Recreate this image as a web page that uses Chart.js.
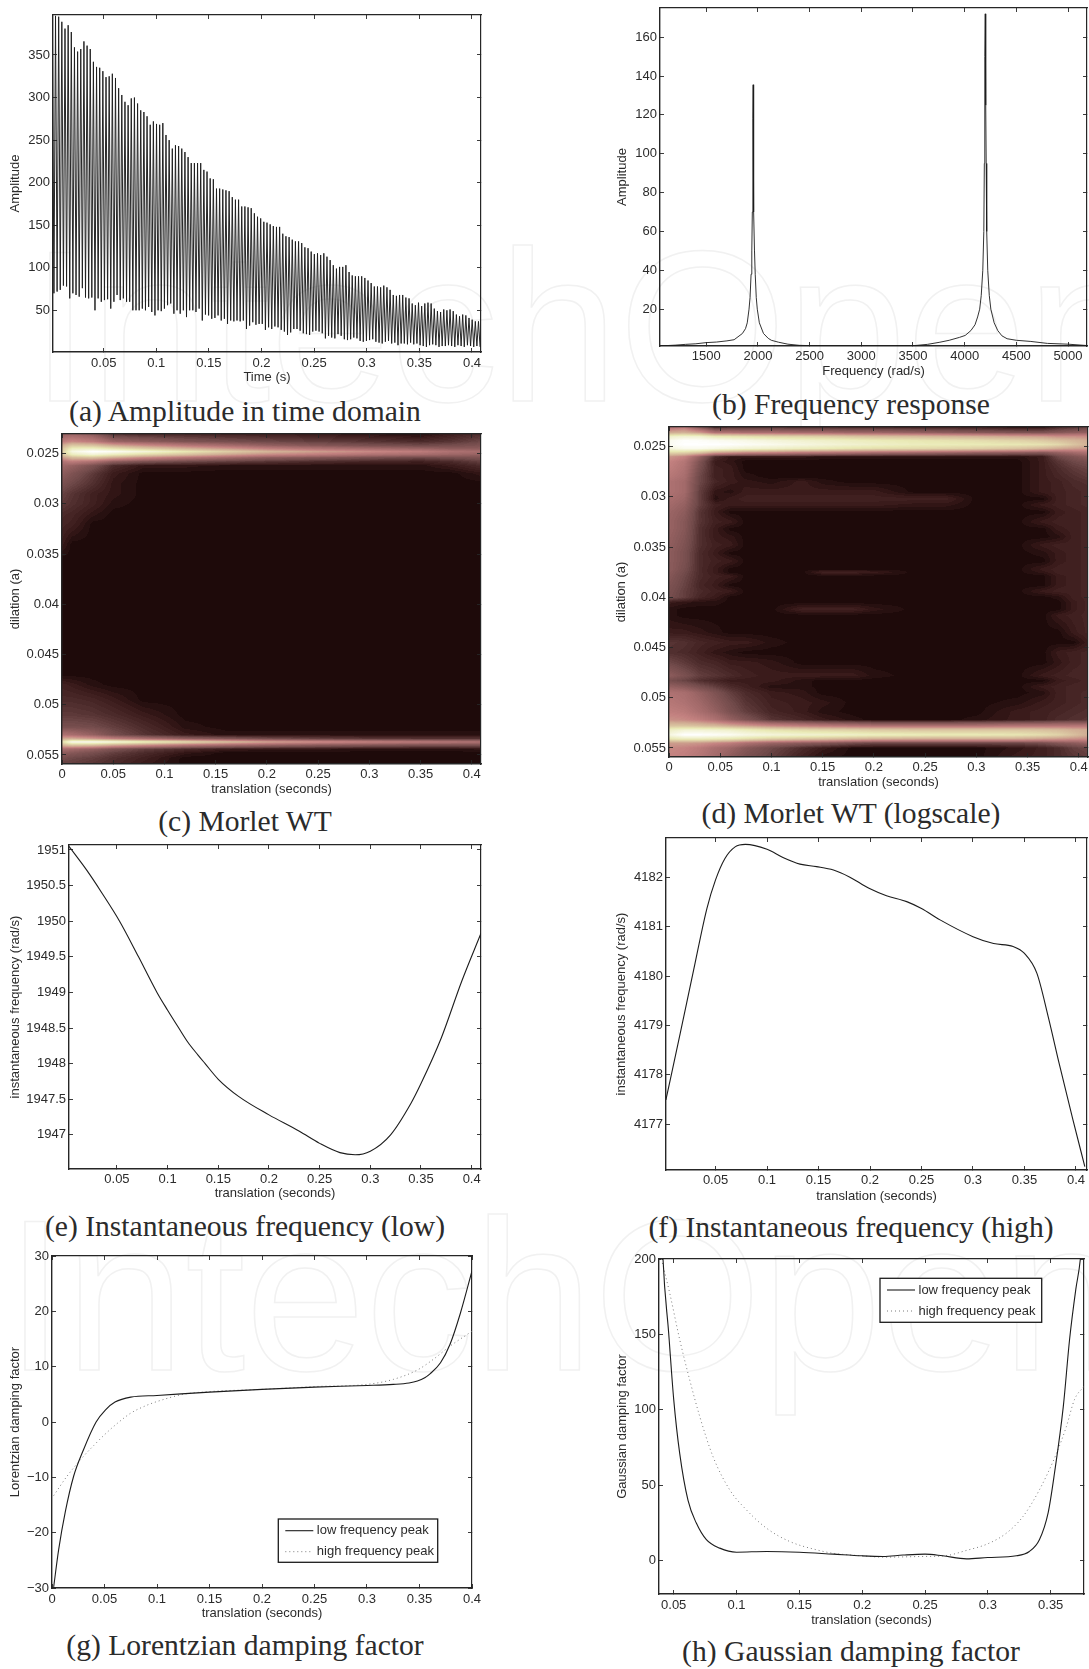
<!DOCTYPE html>
<html>
<head>
<meta charset="utf-8">
<title>Morlet wavelet damping figure</title>
<script src="https://cdn.jsdelivr.net/npm/chart.js@4/dist/chart.umd.min.js"></script>
<style>
  html, body { margin: 0; padding: 0; background: #fff; }
  #page { position: relative; width: 1089px; height: 1669px; overflow: hidden; }
  #page canvas { position: absolute; }
  #mark { position: absolute; left: 0; top: 0; }
  .cap { position: absolute; transform: translate(-50%, -50%); white-space: nowrap; line-height: 1;
         font-family: "Liberation Serif", serif; font-size: 29.6px; color: #2b2b2b; }
</style>
</head>
<body>
<div id="page">
  <svg id="mark" width="1089" height="1669" aria-hidden="true">
    <g font-family="Liberation Sans" font-size="216" fill="none" stroke="#f1f1f1" stroke-width="1.5">
      <text x="30" y="401">IntechOpen</text>
      <text x="5" y="1370">IntechOpen</text>
    </g>
  </svg>
</div>
<script>
// (a) time signal: top and bottom of each oscillation
var ampPeaks = [398,396,395,389,381,385,377,359,354,357,366,361,357,342,336,335,331,324,325,328,323,311,303,295,291,299,300,293,285,283,278,268,272,269,268,270,256,250,240,244,243,240,236,230,223,223,223,223,215,213,205,204,193,193,192,191,190,183,180,180,172,172,171,170,164,160,158,154,153,151,149,148,148,140,137,136,133,131,131,129,124,123,119,116,117,115,117,113,109,103,99,101,101,103,95,91,90,90,90,88,85,82,78,78,77,79,77,74,68,67,68,68,65,64,58,56,59,55,58,59,58,52,49,48,51,50,51,49,45,43,45,44,41,39,37,37];
var ampTroughs = [70,72,74,79,78,64,70,68,66,76,65,64,65,50,64,60,62,63,52,60,68,62,64,60,60,50,50,50,52,50,54,48,44,50,49,52,56,58,46,50,46,50,42,50,50,48,52,38,45,44,40,41,44,38,40,34,38,37,38,37,38,28,32,36,33,34,34,27,30,28,31,30,27,25,21,24,28,28,26,23,22,21,25,26,25,23,17,20,18,17,22,20,16,15,16,18,17,14,13,14,15,16,13,12,11,13,14,11,12,9,11,11,10,12,10,11,9,8,7,9,10,9,7,8,8,9,8,7,9,8,7,9,8,7,8,7];
var ampStart = 0.0012;
var ampPeriod = 0.0030;
var ampXTicks = [0.05,0.1,0.15,0.2,0.25,0.3,0.35,0.4];
var ampYTicks = [50,100,150,200,250,300,350];

// (b) spectrum
var specFreq = [1053,1200,1300,1400,1500,1600,1700,1770,1850,1880,1897,1914,1924,1934,1941,1946,1950,1952,1954,1956,1958,1962,1967,1974,1984,1994,2014,2054,2100,2130,2200,2290,2400,2600,3000,3300,3500,3640,3760,3850,3950,4005,4060,4100,4125,4145,4160,4175,4185,4190,4193,4196,4199,4202,4205,4208,4213,4223,4238,4253,4285,4320,4360,4410,4500,4640,4800,5000,5183];
var specAmp = [1.1,1.5,1.9,2.2,2.8,3.1,3.7,4.3,7.5,10,13,20,26,38,50,70,96,118,135.5,118,96,70,50,38,26,20,13,7.5,5,4,3,2,1.4,1.1,1.1,1.1,1.2,1.9,3,4,5.5,6.5,9,12,16,20,27,40,60,95,125,150,172,150,125,95,60,40,27,20,13,9,6.3,4.8,4,3.4,2.4,2,1.3];
var specXTicks = [1500,2000,2500,3000,3500,4000,4500,5000];
var specYTicks = [20,40,60,80,100,120,140,160];

// (c) Morlet WT, percent of colour range, one row per dilation
var wtTimes = [0,0.01,0.03,0.05,0.08,0.12,0.16,0.2,0.25,0.3,0.35,0.38,0.41];
var wtDilations = [0.0230,0.0238,0.0242,0.0245,0.0248,0.0251,0.0254,0.0258,0.0262,0.0270,0.0280,0.0290,0.0300,0.0310,0.0320,0.0340,0.0355,0.0470,0.0480,0.0495,0.0510,0.0522,0.0530,0.0534,0.0537,0.0540,0.0544,0.0548,0.0553,0.0559];
var wtCells = [
  [20,22,18,6,4,4,3,3,2,1,0,3,6],
  [35,40,35,24,20,16,14,12,10,8,6,8,12],
  [50,62,60,50,42,34,28,22,18,15,13,14,16],
  [58,78,80,72,62,52,44,36,30,26,23,20,20],
  [62,90,100,97,88,75,64,54,46,40,35,30,27],
  [58,78,86,78,68,58,48,40,35,30,27,24,22],
  [45,55,58,50,40,32,26,20,17,14,12,14,16],
  [30,35,30,20,15,12,10,8,6,5,4,6,10],
  [25,22,15,6,2,2,1,1,1,1,1,3,6],
  [20,16,9,3,0,0,0,0,0,0,0,0,2],
  [15,12,7,2,0,0,0,0,0,0,0,0,0],
  [11,8,4,2,0,0,0,0,0,0,0,0,0],
  [9,7,4,1,0,0,0,0,0,0,0,0,0],
  [6,5,2,0,0,0,0,0,0,0,0,0,0],
  [5,4,0,0,0,0,0,0,0,0,0,0,0],
  [3,0,0,0,0,0,0,0,0,0,0,0,0],
  [0,0,0,0,0,0,0,0,0,0,0,0,0],
  [0,0,0,0,0,0,0,0,0,0,0,0,0],
  [4,3,1,0,0,0,0,0,0,0,0,0,0],
  [6,6,5,3,0,0,0,0,0,0,0,0,0],
  [9,9,8,6,3,0,0,0,0,0,0,0,0],
  [14,14,13,10,6,1,0,0,0,0,0,0,0],
  [30,28,22,14,8,3,1,1,1,1,1,1,1],
  [50,52,46,38,30,22,18,14,11,9,8,8,8],
  [70,95,95,90,80,70,58,48,42,37,34,32,30],
  [55,62,60,52,44,34,28,24,20,18,16,16,16],
  [28,26,22,16,10,6,3,2,2,1,1,1,2],
  [20,18,14,10,6,2,0,0,0,0,0,0,0],
  [14,12,10,7,4,0,0,0,0,0,0,0,0],
  [10,10,8,6,3,0,0,0,0,0,0,0,0]
];

// (d) Morlet WT on log scale
var logTimes = [0,0.015,0.03,0.045,0.06,0.075,0.1,0.13,0.15,0.18,0.2,0.24,0.27,0.3,0.34,0.365,0.38,0.395,0.41];
var logDilations = [0.0231,0.0236,0.0240,0.0244,0.0248,0.0252,0.0256,0.0260,0.0265,0.0272,0.0280,0.0285,0.0295,0.0302,0.0308,0.0315,0.0325,0.0332,0.0340,0.0348,0.0356,0.0364,0.0372,0.0375,0.0379,0.0388,0.0394,0.0400,0.0405,0.0412,0.0418,0.0435,0.0445,0.0455,0.0465,0.0478,0.0483,0.0489,0.0495,0.0505,0.0514,0.0522,0.0528,0.0532,0.0537,0.0541,0.0545,0.0550,0.0559];
var logCells = [
  [30,35,18,6,8,8,8,7,7,6,6,5,5,4,2,2,6,8,12],
  [50,52,45,30,30,28,28,26,26,24,24,22,20,18,16,16,18,20,22],
  [82,85,84,76,74,72,68,66,64,60,58,56,54,52,48,46,42,42,40],
  [94,99,98,96,94,92,88,84,82,79,77,74,72,70,66,62,58,54,50],
  [96,100,100,100,99,97,94,90,87,84,82,78,77,76,74,72,68,60,52],
  [88,94,94,91,88,85,82,78,76,72,70,68,66,64,59,54,49,46,44],
  [68,66,60,48,44,40,38,34,32,30,28,26,24,22,20,18,22,26,30],
  [44,38,22,6,2,2,2,2,1,1,1,1,1,1,1,3,12,16,20],
  [38,32,16,3,2,0,0,0,0,0,0,0,0,0,0,3,8,12,14],
  [36,30,14,4,3,0,0,0,0,0,0,0,0,0,0,3,6,9,11],
  [33,28,12,4,3,1,0,0,0,0,0,0,0,0,0,3,5,7,9],
  [30,26,12,5,3,2,1,3,1,0,0,0,0,0,0,3,4,6,7],
  [30,26,10,2,1,3,3,3,3,3,3,0,0,0,0,3,4,5,6],
  [28,24,10,1,3,4,4,4,4,4,4,4,4,0,0,0,4,5,6],
  [26,22,10,4,3,3,3,3,3,3,3,2,2,0,0,3,4,5,6],
  [24,20,8,3,0,0,0,0,0,0,0,0,0,0,0,0,3,4,5],
  [23,18,8,4,3,0,0,0,0,0,0,0,0,0,0,3,4,4,5],
  [23,18,7,3,0,0,0,0,0,0,0,0,0,0,0,0,3,4,5],
  [22,17,7,3,2,0,0,0,0,0,0,0,0,0,0,0,1,4,5],
  [21,16,7,4,3,0,0,0,0,0,0,0,0,0,0,3,4,4,5],
  [20,15,6,3,0,0,0,0,0,0,0,0,0,0,0,1,3,4,5],
  [20,15,6,4,3,0,0,0,0,0,0,0,0,0,0,0,3,4,5],
  [20,14,6,3,0,0,0,0,0,0,0,0,0,0,0,3,4,4,5],
  [19,13,6,3,0,0,0,0,4,4,3,0,0,0,0,2,4,4,5],
  [18,12,6,4,3,0,0,0,0,0,0,0,0,0,0,0,3,4,5],
  [16,11,5,3,0,0,0,0,0,0,0,0,0,0,0,0,3,4,5],
  [15,10,6,4,3,0,0,0,0,0,0,0,0,0,0,3,4,4,5],
  [14,10,5,3,0,0,0,0,0,0,0,0,0,0,0,0,1,4,5],
  [3,2,1,1,0,0,0,0,0,0,0,0,0,0,0,0,0,3,5],
  [1,0,0,0,0,0,0,4,4,4,2,0,0,0,0,0,0,3,5],
  [1,0,0,0,0,0,0,0,0,0,0,0,0,0,0,0,3,4,5],
  [3,3,2,1,0,0,0,0,0,0,0,0,0,0,0,0,0,3,5],
  [8,7,5,4,3,3,1,0,0,0,0,0,0,0,0,0,0,0,3.5],
  [7,6,4,2,1,0,0,0,0,0,0,0,0,0,0,0,3,4,5],
  [12,9,6,5,3,3,2,0,0,0,0,0,0,0,0,0,2,4,5],
  [20,15,10,8,6,4,3,3,3,3,1,0,0,0,0,3,4,5,5],
  [14,11,7,5,3,3,3,1,0,0,0,0,0,0,0,0,3,4,5],
  [22,19,14,10,6,4,1,1,0,0,0,0,0,0,0,3,4,5,5],
  [30,28,22,16,10,6,3,2,0,0,0,0,0,0,0,1,4,5,6],
  [33,30,25,19,13,8,4,3,2,0,0,0,0,0,1,3,4,5,6],
  [36,34,28,22,15,10,5,3,1,0,0,0,0,0,3,4,5,6,7],
  [42,40,36,30,22,16,8,5,3,1,0,0,0,1,3,4,6,7,8],
  [60,60,58,55,50,46,40,36,34,32,30,30,30,30,32,32,32,32,32],
  [80,85,85,84,82,78,72,68,66,64,62,60,60,60,60,58,56,52,50],
  [90,100,100,98,96,92,88,85,84,82,80,78,76,76,74,70,66,58,50],
  [74,78,78,76,74,70,64,60,58,54,52,50,50,50,50,46,44,42,40],
  [46,46,44,40,36,30,24,20,18,14,12,12,12,12,12,14,18,20,24],
  [40,38,34,28,24,18,12,6,3,0,0,0,0,0,2,4,6,10,12],
  [38,36,32,26,20,15,10,4,1,0,0,0,0,0,3,4,6,8,10]
];
var wtXTicks = [0,0.05,0.1,0.15,0.2,0.25,0.3,0.35,0.4];
var wtYTicks = [0.025,0.03,0.035,0.04,0.045,0.05,0.055];

// pink colour map, percent and colour
var pinkStops = [0,3,12.5,25,37.5,50,75,100];
var pinkColors = [[30,10,10],[58,27,27],[113,74,74],[160,104,104],[195,129,128],[208,172,147],[233,233,181],[255,255,255]];

// (e) instantaneous frequency, low peak
var lowTime = [0.0027,0.02,0.035,0.0526,0.0713,0.0895,0.1,0.111,0.12,0.13,0.137,0.15,0.17,0.2,0.23,0.25,0.27,0.285,0.3,0.32,0.34,0.35,0.37,0.39,0.4092];
var lowFreq = [1951.05,1950.72,1950.4,1950,1949.5,1949,1948.75,1948.5,1948.3,1948.12,1948,1947.78,1947.54,1947.28,1947.05,1946.88,1946.75,1946.72,1946.77,1947,1947.44,1947.72,1948.36,1949.15,1949.83];
var lowXTicks = [0.05,0.1,0.15,0.2,0.25,0.3,0.35,0.4];
var lowYTicks = [1947,1947.5,1948,1948.5,1949,1949.5,1950,1950.5,1951];

// (f) instantaneous frequency, high peak
var highTime = [0.0018,0.0157,0.0287,0.0416,0.05,0.059,0.069,0.079,0.1,0.116,0.132,0.148,0.1645,0.18,0.199,0.216,0.2356,0.25,0.268,0.3,0.32,0.339,0.35,0.362,0.373,0.384,0.397,0.4086];
var highFreq = [4177.49,4178.84,4180.12,4181.37,4181.95,4182.38,4182.62,4182.67,4182.57,4182.4,4182.27,4182.22,4182.15,4182.01,4181.78,4181.63,4181.51,4181.37,4181.14,4180.8,4180.66,4180.6,4180.46,4180.06,4179.18,4178.2,4177.09,4176.14];
var highYTicks = [4177,4178,4179,4180,4181,4182];

// (g) Lorentzian damping
var lorLowTime = [0.0016,0.0063,0.0127,0.0206,0.03,0.042,0.051,0.06,0.075,0.1,0.15,0.2,0.25,0.3,0.325,0.34,0.348,0.355,0.36,0.37,0.379,0.389,0.4];
var lorLow = [-29.8,-23.1,-16.2,-9.8,-5,0,2.2,3.6,4.5,4.8,5.4,5.9,6.3,6.6,6.8,7.05,7.4,8,8.7,10.7,14,19.7,27.3];
var lorHighTime = [0.0016,0.0143,0.03,0.04,0.05,0.0625,0.075,0.09,0.1,0.125,0.15,0.2,0.25,0.3,0.325,0.348,0.363,0.379,0.4];
var lorHigh = [-13.3,-9.8,-6.2,-4.2,-2.3,-0.2,1.6,3,3.7,5,5.5,5.9,6.4,6.8,7.7,9.4,11.3,13.7,16.4];
var lorXTicks = [0,0.05,0.1,0.15,0.2,0.25,0.3,0.35,0.4];
var lorYTicks = [-30,-20,-10,0,10,20,30];

// (h) Gaussian damping
var gaussLowTime = [0.041,0.0415,0.046,0.05,0.0548,0.0614,0.068,0.076,0.0866,0.1,0.124,0.15,0.177,0.2,0.2166,0.2325,0.25,0.264,0.283,0.3,0.3227,0.333,0.341,0.348,0.353,0.36,0.365,0.37,0.3736,0.3757];
var gaussLow = [213,200,151,107,71,40,25,14,8.4,5.7,6.2,5.7,4.4,3.3,2.9,3.8,4.4,3.3,1.3,2.2,3.3,6.2,14,32,58,102,146.5,180,200,224];
var gaussHighTime = [0.0402,0.0468,0.0548,0.0627,0.0707,0.0813,0.0946,0.1078,0.1237,0.1423,0.1635,0.1768,0.2,0.2166,0.25,0.2656,0.283,0.3,0.3147,0.328,0.341,0.3545,0.3625,0.369,0.3765];
var gaussHigh = [200,177.5,146.5,120,95.7,69,47,33.8,21.7,12.8,7.3,5,3.3,2.4,2.9,3.3,6.9,11.3,18.3,29.4,47,71,89,107,115.6];
var gaussXTicks = [0.05,0.1,0.15,0.2,0.25,0.3,0.35];
var gaussYTicks = [0,50,100,150,200];

var legendNames = ['low frequency peak','high frequency peak'];

var captions = [
  ['(a) Amplitude in time domain', 245, 412],
  ['(b) Frequency response', 851, 405],
  ['(c) Morlet WT', 245, 822],
  ['(d) Morlet WT (logscale)', 851, 814],
  ['(e) Instantaneous frequency (low)', 245, 1227],
  ['(f) Instantaneous frequency (high)', 851, 1228],
  ['(g) Lorentzian damping factor', 245, 1646],
  ['(h) Gaussian damping factor', 851, 1652]
];

var inkColor = '#262626';
var labelFont = {family: 'Liberation Sans', size: 13};
var titleHeight = labelFont.size * 1.2;
var page = document.getElementById('page');

function zip(xs, ys) {
  return xs.map(function (x, i) { return {x: x, y: ys[i]}; });
}

function zigzag() {
  var pts = [];
  var n = Math.min(ampPeaks.length, ampTroughs.length);
  for (var i = 0; i < n; i++) {
    pts.push({x: ampStart + i * ampPeriod, y: ampPeaks[i]});
    pts.push({x: ampStart + (i + 0.5) * ampPeriod, y: ampTroughs[i]});
  }
  return pts;
}

function solid(data, label) {
  return {label: label, data: data, borderColor: '#1c1c1c', borderWidth: 1.1, pointRadius: 0, fill: false, cubicInterpolationMode: 'monotone'};
}

function dotted(data, label) {
  return {label: label, data: data, borderColor: '#7a7a7a', borderWidth: 1, borderDash: [1, 3], pointRadius: 0, fill: false, cubicInterpolationMode: 'monotone'};
}

function tickValues(vals) {
  return function (scale) {
    scale.ticks = vals.map(function (v) { return {value: v}; });
  };
}

function setWidth(w) {
  return function (scale) { scale.width = w; scale.paddingTop = 0; scale.paddingBottom = 0; };
}

function setHeight(h) {
  return function (scale) { scale.height = h; scale.paddingLeft = 0; scale.paddingRight = 0; };
}

function tickLabel(v) {
  return String(v).replace('-', '\u2212');
}

function gridOpts() {
  return {drawOnChartArea: false, drawTicks: true, tickLength: -4, color: inkColor, lineWidth: 0.9};
}

function borderOpts(w) {
  return {display: true, color: inkColor, width: w};
}

function heatPlugin(times, dilations, cells) {
  function findCell(list, v) {
    var i = 0;
    while (i < list.length - 2 && v > list[i + 1]) i++;
    var f = (v - list[i]) / (list[i + 1] - list[i]);
    return [i, Math.max(0, Math.min(1, f))];
  }
  function colorAt(p) {
    var k = 0;
    while (k < pinkStops.length - 2 && p > pinkStops[k + 1]) k++;
    var f = (p - pinkStops[k]) / (pinkStops[k + 1] - pinkStops[k]);
    return pinkColors[k].map(function (c, j) { return c + (pinkColors[k + 1][j] - c) * f; });
  }
  return {
    id: 'heat',
    beforeDraw: function (chart) {
      var a = chart.chartArea, sx = chart.scales.x, sy = chart.scales.y;
      var x0 = Math.round(a.left), y0 = Math.round(a.top);
      var w = Math.round(a.right) - x0, h = Math.round(a.bottom) - y0;
      var img = chart.ctx.createImageData(w, h);
      for (var py = 0; py < h; py++) {
        var rf = findCell(dilations, sy.getValueForPixel(y0 + py + 0.5));
        for (var px = 0; px < w; px++) {
          var cf = findCell(times, sx.getValueForPixel(x0 + px + 0.5));
          var r = rf[0], c = cf[0];
          var top = cells[r][c] * (1 - cf[1]) + cells[r][c + 1] * cf[1];
          var bot = cells[r + 1][c] * (1 - cf[1]) + cells[r + 1][c + 1] * cf[1];
          var v = top * (1 - rf[1]) + bot * rf[1];
          // contour levels as in the original filled plot
          var rgb = colorAt(Math.round(v));
          var o = (py * w + px) * 4;
          img.data[o] = rgb[0]; img.data[o + 1] = rgb[1]; img.data[o + 2] = rgb[2]; img.data[o + 3] = 255;
        }
      }
      chart.ctx.putImageData(img, x0, y0);
    }
  };
}

function legendPlugin(box) {
  return {
    id: 'boxLegend',
    afterDraw: function (chart) {
      var ctx = chart.ctx, a = chart.chartArea;
      var x = a.left + box.dx, y = a.top + box.dy;
      ctx.save();
      ctx.fillStyle = '#fff';
      ctx.strokeStyle = '#1c1c1c';
      ctx.lineWidth = 1.3;
      ctx.fillRect(x, y, box.w, box.h);
      ctx.strokeRect(x, y, box.w, box.h);
      ctx.font = labelFont.size + 'px ' + labelFont.family;
      ctx.textBaseline = 'middle';
      chart.data.datasets.forEach(function (ds, i) {
        var rowY = y + 11.7 + i * 21;
        ctx.strokeStyle = ds.borderColor;
        ctx.lineWidth = ds.borderWidth;
        ctx.setLineDash(ds.borderDash || []);
        ctx.beginPath();
        ctx.moveTo(x + 7, rowY);
        ctx.lineTo(x + 35, rowY);
        ctx.stroke();
        ctx.setLineDash([]);
        ctx.fillStyle = '#2b2b2b';
        ctx.fillText(ds.label, x + 38.5, rowY);
      });
      ctx.restore();
    }
  };
}

function addPanel(p) {
  var canvas = document.createElement('canvas');
  var left = Math.round(p.yTitleX - titleHeight / 2);
  var top = p.t - 10;
  var right = Math.min(p.r + 14, 1089);
  var bottom = Math.round(p.xTitleY + titleHeight / 2);
  canvas.width = right - left;
  canvas.height = bottom - top;
  canvas.style.left = left + 'px';
  canvas.style.top = top + 'px';
  page.appendChild(canvas);

  var yReverse = !!p.reverse;
  new Chart(canvas, {
    type: 'line',
    data: {datasets: p.datasets},
    plugins: p.plugins || [],
    options: {
      responsive: false,
      animation: false,
      devicePixelRatio: 1,
      parsing: false,
      normalized: false,
      layout: {autoPadding: false, padding: {left: 0, top: p.t - top, right: right - p.r, bottom: 0}},
      plugins: {legend: {display: false}, tooltip: {enabled: false}},
      scales: {
        x: {
          type: 'linear', position: 'bottom', min: p.xMin, max: p.xMax,
          afterBuildTicks: tickValues(p.xTicks), afterFit: setHeight(bottom - p.b),
          grid: gridOpts(), border: borderOpts(1.4),
          ticks: {autoSkip: false, maxRotation: 0, font: labelFont, color: '#2b2b2b', padding: p.xTickY - p.b - titleHeight / 2 + 4, callback: tickLabel},
          title: {display: true, text: p.xTitle, font: labelFont, color: '#2b2b2b', padding: 0}
        },
        y: {
          type: 'linear', position: 'left', min: p.yMin, max: p.yMax, reverse: yReverse,
          afterBuildTicks: tickValues(p.yTicks), afterFit: setWidth(p.l - left),
          grid: gridOpts(), border: borderOpts(1.4),
          ticks: {autoSkip: false, font: labelFont, color: '#2b2b2b', padding: 7, callback: tickLabel},
          title: {display: true, text: p.yTitle, font: labelFont, color: '#2b2b2b', padding: 0}
        },
        x2: {
          type: 'linear', position: 'top', min: p.xMin, max: p.xMax,
          afterBuildTicks: tickValues(p.xTicks), afterFit: setHeight(0),
          grid: gridOpts(), border: borderOpts(1.2),
          ticks: {display: false}
        },
        y2: {
          type: 'linear', position: 'right', min: p.yMin, max: p.yMax, reverse: yReverse,
          afterBuildTicks: tickValues(p.yTicks), afterFit: setWidth(0),
          grid: gridOpts(), border: borderOpts(1.2),
          ticks: {display: false}
        }
      }
    }
  });
}

captions.forEach(function (c) {
  var d = document.createElement('div');
  d.className = 'cap';
  d.textContent = c[0];
  d.style.left = c[1] + 'px';
  d.style.top = c[2] + 'px';
  page.appendChild(d);
});

addPanel({l: 53, r: 481, t: 15, b: 352, yTitleX: 15.7, xTitleY: 377.3, xTickY: 363.3,
  xMin: 0.0018, xMax: 0.4086, yMin: 1, yMax: 397, xTicks: ampXTicks, yTicks: ampYTicks,
  xTitle: 'Time (s)', yTitle: 'Amplitude',
  datasets: [{data: zigzag(), borderColor: '#1c1c1c', borderWidth: 0.95, pointRadius: 0, tension: 0, fill: false}]});

addPanel({l: 660, r: 1087, t: 8, b: 346, yTitleX: 622.3, xTitleY: 370.7, xTickY: 356.7,
  xMin: 1053, xMax: 5183, yMin: 1.06, yMax: 175, xTicks: specXTicks, yTicks: specYTicks,
  xTitle: 'Frequency (rad/s)', yTitle: 'Amplitude',
  datasets: [{data: zip(specFreq, specAmp), borderColor: '#1c1c1c', borderWidth: 0.9, pointRadius: 0, tension: 0, fill: false}]});

addPanel({l: 62, r: 481, t: 434, b: 764, yTitleX: 15.7, xTitleY: 789, xTickY: 774.3,
  xMin: 0, xMax: 0.409, yMin: 0.02305, yMax: 0.0559, reverse: true, xTicks: wtXTicks, yTicks: wtYTicks,
  xTitle: 'translation (seconds)', yTitle: 'dilation (a)',
  datasets: [], plugins: [heatPlugin(wtTimes, wtDilations, wtCells)]});

addPanel({l: 669, r: 1088, t: 427, b: 757, yTitleX: 621.7, xTitleY: 781.7, xTickY: 767.7,
  xMin: 0, xMax: 0.409, yMin: 0.02305, yMax: 0.0559, reverse: true, xTicks: wtXTicks, yTicks: wtYTicks,
  xTitle: 'translation (seconds)', yTitle: 'dilation (a)',
  datasets: [], plugins: [heatPlugin(logTimes, logDilations, logCells)]});

addPanel({l: 69, r: 481, t: 845, b: 1169, yTitleX: 15.7, xTitleY: 1193.3, xTickY: 1179.3,
  xMin: 0.0027, xMax: 0.4092, yMin: 1946.52, yMax: 1951.07, xTicks: lowXTicks, yTicks: lowYTicks,
  xTitle: 'translation (seconds)', yTitle: 'instantaneous frequency (rad/s)',
  datasets: [solid(zip(lowTime, lowFreq))]});

addPanel({l: 666, r: 1087, t: 838, b: 1170, yTitleX: 621.7, xTitleY: 1195.7, xTickY: 1180.7,
  xMin: 0.0019, xMax: 0.4107, yMin: 4176.07, yMax: 4182.8, xTicks: lowXTicks, yTicks: highYTicks,
  xTitle: 'translation (seconds)', yTitle: 'instantaneous frequency (rad/s)',
  datasets: [solid(zip(highTime, highFreq))]});

addPanel({l: 52, r: 472, t: 1256, b: 1588, yTitleX: 15.7, xTitleY: 1612.7, xTickY: 1599,
  xMin: 0, xMax: 0.4, yMin: -30, yMax: 30, xTicks: lorXTicks, yTicks: lorYTicks,
  xTitle: 'translation (seconds)', yTitle: 'Lorentzian damping factor',
  datasets: [solid(zip(lorLowTime, lorLow), legendNames[0]), dotted(zip(lorHighTime, lorHigh), legendNames[1])],
  plugins: [legendPlugin({dx: 226.3, dy: 263, w: 159.4, h: 43.3})]});

addPanel({l: 659, r: 1084, t: 1259, b: 1594, yTitleX: 622.3, xTitleY: 1620, xTickY: 1605,
  xMin: 0.0383, xMax: 0.3765, yMin: -22, yMax: 200, xTicks: gaussXTicks, yTicks: gaussYTicks,
  xTitle: 'translation (seconds)', yTitle: 'Gaussian damping factor',
  datasets: [solid(zip(gaussLowTime, gaussLow), legendNames[0]), dotted(zip(gaussHighTime, gaussHigh), legendNames[1])],
  plugins: [legendPlugin({dx: 221, dy: 19.3, w: 161.7, h: 44})]});
</script>
</body>
</html>
